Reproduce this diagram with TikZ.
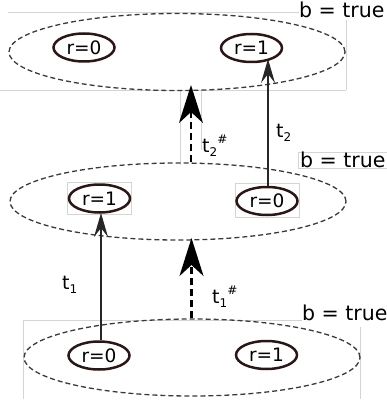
\documentclass[tikz,border=0pt]{standalone}
\usepackage{fontspec}
\setmainfont{DejaVu Sans}
\usetikzlibrary{shapes.geometric,arrows.meta}
\definecolor{ringcol}{HTML}{2B1616}
\definecolor{outercol}{HTML}{3A3A3A}
\definecolor{boxcol}{HTML}{D4D4D4}
\tikzset{
  outer/.style={ellipse, draw=outercol, line width=1.3pt, dash pattern=on 5pt off 3pt, minimum width=336pt, minimum height=77pt, inner sep=0pt},
  ring/.style={ellipse, draw=ringcol, line width=2.5pt, minimum width=61pt, minimum height=28pt, inner sep=0pt, font=\fontsize{18.5}{18.5}\selectfont},
  btrue/.style={anchor=base west, inner sep=0pt, font=\fontsize{20.5}{20.5}\selectfont},
  tlab/.style={anchor=base west, inner sep=0pt, font=\fontsize{19}{19}\selectfont},
  solidarrow/.style={draw=black!85, line width=1.3pt, -{Stealth[length=24pt,width=14pt,inset=9pt]}},
  dasharrow/.style={draw=black, line width=2.3pt, dash pattern=on 7pt off 4pt, -{Stealth[length=38pt,width=24pt,inset=11pt]}},
  faint/.style={draw=boxcol, line width=0.7pt}
}
\newcommand{\sbs}[1]{\raisebox{-4pt}{\fontsize{12}{12}\selectfont #1}}
\newcommand{\sps}[1]{\raisebox{9pt}{\fontsize{12}{12}\selectfont #1}}
\begin{document}
\begin{tikzpicture}[x=1pt,y=-1pt]
\useasboundingbox (0,0) rectangle (387,401);
% faint boxes
\draw[faint] (8,12) -- (299,12);
\draw[faint] (346,20) -- (346,90);
\draw[faint] (0,90) -- (346,90);
\draw[faint] (180,90) -- (180,165);
\draw[faint] (201,90) -- (201,150);
\draw[faint] (67,182) rectangle (131,214);
\draw[faint] (235,183) rectangle (299,217);
\draw[faint] (298,152) rectangle (387,168);
\draw[faint] (23,399) -- (23,320) -- (302,320);
\draw[faint] (360,327) -- (360,399);
% outer ellipses
\node[outer] (top) at (177,52) {};
\node[outer] (mid) at (178,201.5) {};
\node[outer] (bot) at (192,357.5) {};
% inner rings
\node[ring] (tr0) at (84,47.5) {r=0};
\node[ring] (tr1) at (251.5,48) {r=1};
\node[ring] (mr1) at (99.5,198.5) {r=1};
\node[ring] (mr0) at (267,201) {r=0};
\node[ring] (br0) at (99,355.5) {r=0};
\node[ring] (br1) at (266.5,355) {r=1};
% b = true labels
\node[btrue] (bt1) at (299,18) {b = true};
\node[btrue] (bt2) at (300,167) {b = true};
\node[btrue] (bt3) at (302,320) {b = true};
% connectors
\coordinate (t2tip) at (268,59);
\coordinate (t1tip) at (101,213);
\coordinate (d2tip) at (191,85);
\coordinate (d1tip) at (191.5,238);
\draw[solidarrow] (mr0.north -| t2tip) -- (t2tip);
\draw[solidarrow] (br0.north -| t1tip) -- (t1tip);
\draw[dasharrow] (mid.north -| d2tip) -- (d2tip);
\draw[dasharrow] (bot.north -| d1tip) -- (d1tip);
% t labels
\node[tlab] (lt2) at (276,137) {t\sbs{2}};
\node[tlab] (lt2s) at (202,152) {t\sbs{2}\sps{\#}};
\node[tlab] (lt1) at (62,289) {t\sbs{1}};
\node[tlab] (lt1s) at (212,303) {t\sbs{1}\sps{\#}};
\end{tikzpicture}
\end{document}
